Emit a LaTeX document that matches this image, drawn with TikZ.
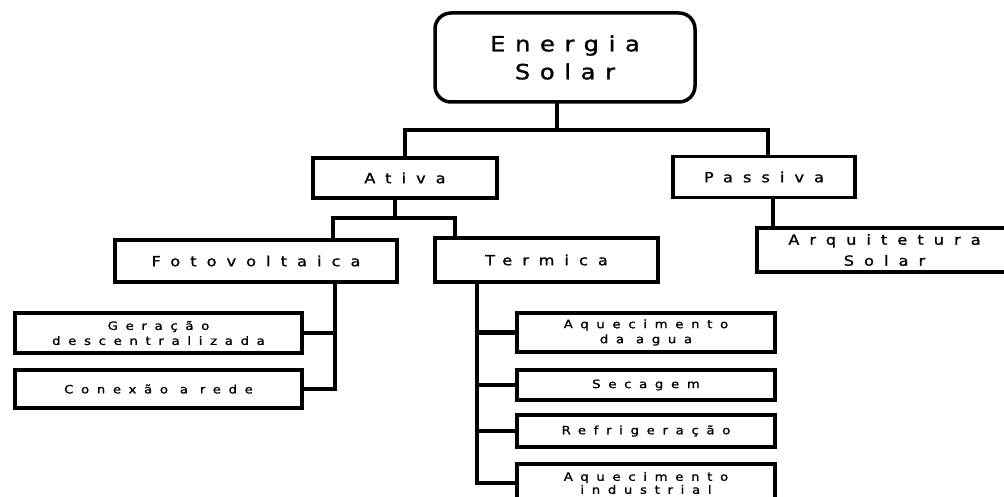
\documentclass[tikz,border=0pt]{standalone}
\usepackage{fontspec}
\setmainfont{DejaVu Sans}
\newfontfamily\bigf[LetterSpace=46,FakeStretch=1.15,FakeBold=1.2]{DejaVu Sans}
\newfontfamily\midf[LetterSpace=72,FakeStretch=1.15,FakeBold=1.2]{DejaVu Sans}
\newfontfamily\smlf[LetterSpace=67,FakeStretch=1.15,FakeBold=1.2]{DejaVu Sans}
\begin{document}
\begin{tikzpicture}[x=1pt,y=-1pt,
  box/.style={draw=black,line width=3.5pt,rectangle,inner sep=0pt,align=center,fill=white},
  topbox/.style={box,rounded corners=16pt,font=\bigf\fontsize{21}{28}\selectfont},
  midbox/.style={box,font=\midf\fontsize{14}{21}\selectfont},
  smlbox/.style={box,font=\smlf\fontsize{11.5}{15}\selectfont},
  conn/.style={line width=4.5pt,line cap=rect}]
\useasboundingbox (0,0) rectangle (1004,497);
\clip (0,0) rectangle (1004,497);
% nodes
\node[topbox,minimum width=260pt,minimum height=89pt] (es) at (565,57.5) {Energia\\Solar};
\node[midbox,minimum width=184pt,minimum height=40pt] (ativa) at (405,178) {Ativa};
\node[midbox,minimum width=182pt,minimum height=41pt] (passiva) at (764,177) {Passiva};
\node[midbox,minimum width=282pt,minimum height=42pt] (foto) at (256,261) {Fotovoltaica};
\node[midbox,minimum width=223pt,minimum height=44pt] (term) at (546.5,260) {Termica};
\node[midbox,minimum width=255pt,minimum height=44pt] (arq) at (884.5,250) {Arquitetura\\Solar};
\node[smlbox,minimum width=287pt,minimum height=40pt] (ger) at (158.5,333) {Geração\\descentralizada};
\node[smlbox,minimum width=287pt,minimum height=38pt] (con) at (158.5,389) {Conexão a rede};
\node[smlbox,minimum width=258pt,minimum height=39pt] (aq) at (646,332.5) {Aquecimento\\da agua};
\node[smlbox,minimum width=258pt,minimum height=30pt] (sec) at (646,385) {Secagem};
\node[smlbox,minimum width=258pt,minimum height=32pt] (ref) at (646,431) {Refrigeração};
\node[smlbox,minimum width=258pt,minimum height=38pt,font=\smlf\fontsize{11.5}{13}\selectfont] (ind) at (646,483) {Aquecimento\\industrial};
% junction coordinates
\coordinate (j1) at (557,130);
\coordinate (ja) at (405,130);
\coordinate (jp) at (768,130);
\coordinate (j2) at (395,218);
\coordinate (fa) at (333,218);
\coordinate (ta) at (455,218);
\coordinate (fb) at (335,0);
\coordinate (tb) at (477,0);
\coordinate (pb) at (773,0);
% connectors
\draw[conn] (es.south -| j1) -- (j1);
\draw[conn] (ja) -- (jp);
\draw[conn] (ja) -- (ativa.north);
\draw[conn] (jp) -- (jp |- passiva.north);
\draw[conn] (j2 |- ativa.south) -- (j2);
\draw[conn] (fa) -- (ta);
\draw[conn] (fa) -- (fa |- foto.north);
\draw[conn] (ta) -- (ta |- term.north);
\draw[conn] (fb |- foto.south) |- (con.east);
\draw[conn] (fb |- ger.east) -- (ger.east);
\draw[conn] (tb |- term.south) |- (ind.west);
\draw[conn] (tb |- aq.west) -- (aq.west);
\draw[conn] (tb |- sec.west) -- (sec.west);
\draw[conn] (tb |- ref.west) -- (ref.west);
\draw[conn] (pb |- passiva.south) -- (pb |- arq.north);
\end{tikzpicture}
\end{document}
